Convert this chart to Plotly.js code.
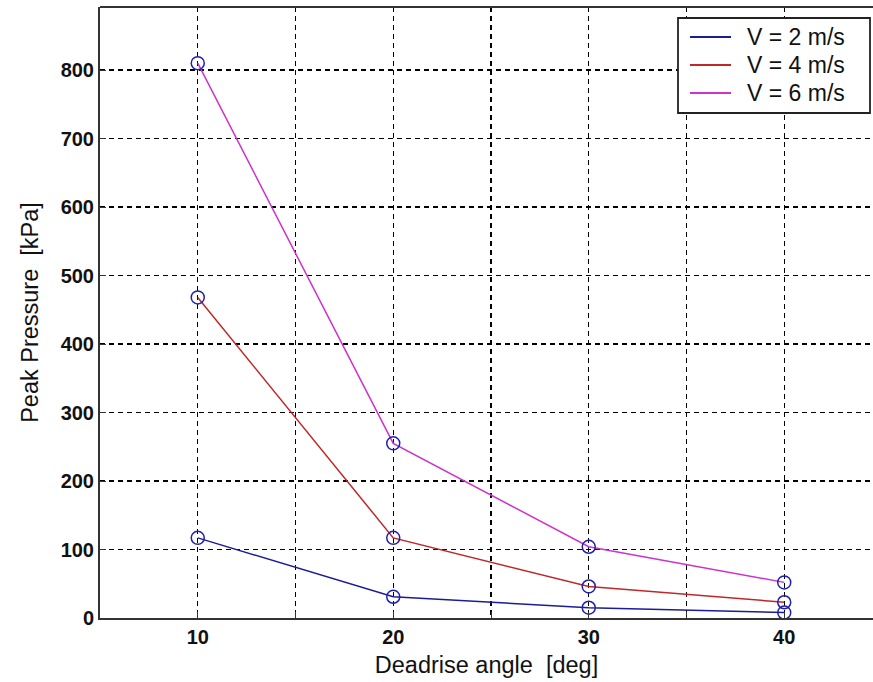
<!DOCTYPE html>
<html><head><meta charset="utf-8">
<script src="https://cdn.plot.ly/plotly-3.0.1.min.js"></script>
<style>html,body{margin:0;padding:0;background:#fff}#chart{width:873px;height:682px}</style>
</head><body><div id="chart"></div>
<script>
const angles = [10, 20, 30, 40];
const v2 = [117, 31, 15, 8];
const v4 = [468, 117, 46, 23];
const v6 = [810, 255, 104, 52];
const names = ['V = 2 m/s', 'V = 4 m/s', 'V = 6 m/s'];
const colors = ['#1c1c96', '#c02828', '#cc33cc'];
const series = [v2, v4, v6];
const traces = [];
series.forEach((s, i) => {
  traces.push({x: angles, y: s, mode: 'lines', name: names[i], showlegend: false, line: {color: colors[i], width: 1.5}});
});
series.forEach((s, i) => {
  traces.push({x: angles, y: s, mode: 'markers', showlegend: false, hoverinfo: 'skip',
    marker: {symbol: 'circle-open', size: 13, color: '#2020b0', line: {width: 1.5, color: '#2020b0'}}});
});
const xtickvals = [10, 15, 20, 25, 30, 35, 40];
const xticktext = ['10', '', '20', '', '30', '', '40'];
const fam = 'Arial, Liberation Sans, sans-serif';

// custom legend (paper coords derived from plot area: left 100, width 773, top 7, height 611)
const W = 773, H = 611, L = 100, T = 7;
const px = v => (v - L) / W;
const py = v => 1 - (v - T) / H;
const shapes = [
  {type: 'line', xref: 'paper', yref: 'paper', x0: 0, x1: 1, y0: 1, y1: 1, line: {color: '#333', width: 2}},
  {type: 'rect', xref: 'paper', yref: 'paper', x0: px(678), x1: px(870), y0: py(18), y1: py(113),
   fillcolor: '#fff', line: {color: '#222', width: 1.8}, layer: 'above'}
];
const annotations = [];
const rowY = [37, 65, 93];
names.forEach((n, i) => {
  shapes.push({type: 'line', xref: 'paper', yref: 'paper', x0: px(690), x1: px(731), y0: py(rowY[i]), y1: py(rowY[i]),
    line: {color: colors[i], width: 2}, layer: 'above'});
  annotations.push({xref: 'paper', yref: 'paper', x: px(745), y: py(rowY[i]), xanchor: 'left', yanchor: 'middle',
    text: n, showarrow: false, font: {size: 23, family: fam, color: '#111'}});
});

Plotly.newPlot('chart', traces, {
  width: 873, height: 682,
  margin: {l: 100, r: 0, t: 7, b: 64},
  paper_bgcolor: '#fff', plot_bgcolor: '#fff',
  font: {family: fam, color: '#111'},
  showlegend: false,
  xaxis: {range: [5, 44.54], tickvals: xtickvals, ticktext: xticktext,
    showgrid: true, gridcolor: '#000', gridwidth: 1.2, griddash: '5px,4px',
    showline: true, linecolor: '#333', linewidth: 2, mirror: false,
    ticks: 'inside', ticklen: 6, tickcolor: '#333', zeroline: false,
    tickfont: {size: 20, family: fam, color: '#111', weight: 'bold'},
    title: {text: 'Deadrise angle  [deg]', font: {size: 23.5, family: fam, color: '#111'}, standoff: 10}},
  yaxis: {range: [0, 892], tickvals: [0,100,200,300,400,500,600,700,800],
    showgrid: true, gridcolor: '#000', gridwidth: 1.2, griddash: '5px,4px',
    showline: true, linecolor: '#333', linewidth: 2, mirror: false,
    ticks: 'inside', ticklen: 6, tickcolor: '#333', zeroline: false,
    tickfont: {size: 20, family: fam, color: '#111', weight: 'bold'},
    title: {text: 'Peak Pressure  [kPa]', font: {size: 23.5, family: fam, color: '#111'}, standoff: 15}},
  shapes: shapes,
  annotations: annotations
}, {displayModeBar: false, staticPlot: true});
</script></body></html>
